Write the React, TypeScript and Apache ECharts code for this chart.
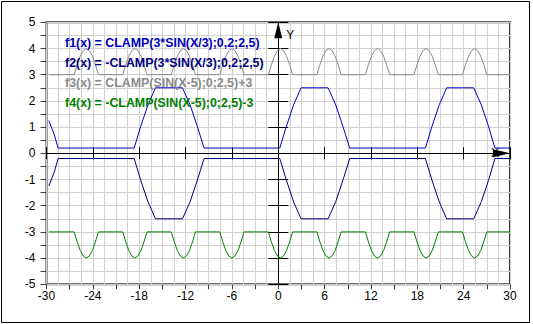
import React, { useEffect, useRef } from "react";
import * as echarts from "echarts";

// f1 / f2 curve (clamped 3*sin(x/3))
const curveX = [-29.7, -29.0, -28.5, -18.65, -17.8, -16.9, -15.9, -12.4, -11.4, -10.5, -9.6, 0.2, 1.0, 2.0, 2.95, 6.45, 7.45, 8.4, 9.25, 19.05, 19.9, 20.85, 21.8, 25.3, 26.3, 27.2, 28.05, 30];
const f1Y = [1.25, 0.72, 0.2, 0.2, 1.03, 1.82, 2.5, 2.5, 1.84, 1.05, 0.2, 0.2, 0.98, 1.86, 2.5, 2.5, 1.84, 1.0, 0.2, 0.2, 1.03, 1.86, 2.5, 2.5, 1.84, 1.05, 0.2, 0.2];
const f2Y = [-1.25, -0.72, -0.2, -0.2, -1.03, -1.82, -2.5, -2.5, -1.84, -1.05, -0.2, -0.2, -0.98, -1.86, -2.5, -2.5, -1.84, -1.0, -0.2, -0.2, -1.03, -1.86, -2.5, -2.5, -1.84, -1.05, -0.2, -0.2];

// f3 / f4 wave (clamped sin(x-5))
const waveX = [
  -29.7,
  -26.42, -26.03, -25.63, -25.24, -24.85, -24.46, -24.06, -23.67, -23.28,
  -20.13, -19.74, -19.34, -18.95, -18.56, -18.17, -17.77, -17.38, -16.99,
  -13.85, -13.46, -13.06, -12.67, -12.28, -11.89, -11.49, -11.1, -10.71,
  -7.57, -7.18, -6.78, -6.39, -6.0, -5.61, -5.21, -4.82, -4.43,
  -1.28, -0.89, -0.49, -0.1, 0.29, 0.68, 1.08, 1.47, 1.86,
  5.0, 5.39, 5.79, 6.18, 6.57, 6.96, 7.36, 7.75, 8.14,
  11.28, 11.67, 12.07, 12.46, 12.85, 13.24, 13.64, 14.03, 14.42,
  17.57, 17.96, 18.36, 18.75, 19.14, 19.53, 19.93, 20.32, 20.71,
  23.85, 24.24, 24.64, 25.03, 25.42, 25.81, 26.21, 26.6, 26.99,
  30,
];
const f3Y = [
  3,
  3, 3.38, 3.71, 3.92, 4, 3.92, 3.71, 3.38, 3,
  3, 3.38, 3.71, 3.92, 4, 3.92, 3.71, 3.38, 3,
  3, 3.38, 3.71, 3.92, 4, 3.92, 3.71, 3.38, 3,
  3, 3.38, 3.71, 3.92, 4, 3.92, 3.71, 3.38, 3,
  3, 3.38, 3.71, 3.92, 4, 3.92, 3.71, 3.38, 3,
  3, 3.38, 3.71, 3.92, 4, 3.92, 3.71, 3.38, 3,
  3, 3.38, 3.71, 3.92, 4, 3.92, 3.71, 3.38, 3,
  3, 3.38, 3.71, 3.92, 4, 3.92, 3.71, 3.38, 3,
  3, 3.38, 3.71, 3.92, 4, 3.92, 3.71, 3.38, 3,
  3,
];
const f4Y = [
  -3,
  -3, -3.38, -3.71, -3.92, -4, -3.92, -3.71, -3.38, -3,
  -3, -3.38, -3.71, -3.92, -4, -3.92, -3.71, -3.38, -3,
  -3, -3.38, -3.71, -3.92, -4, -3.92, -3.71, -3.38, -3,
  -3, -3.38, -3.71, -3.92, -4, -3.92, -3.71, -3.38, -3,
  -3, -3.38, -3.71, -3.92, -4, -3.92, -3.71, -3.38, -3,
  -3, -3.38, -3.71, -3.92, -4, -3.92, -3.71, -3.38, -3,
  -3, -3.38, -3.71, -3.92, -4, -3.92, -3.71, -3.38, -3,
  -3, -3.38, -3.71, -3.92, -4, -3.92, -3.71, -3.38, -3,
  -3, -3.38, -3.71, -3.92, -4, -3.92, -3.71, -3.38, -3,
  -3,
];

const xTickLabels = [-30, -24, -18, -12, -6, 0, 6, 12, 18, 24, 30];
const yTickLabels = [-5, -4, -3, -2, -1, 0, 1, 2, 3, 4, 5];

const seriesNames = [
  "f1(x) = CLAMP(3*SIN(X/3);0,2;2,5)",
  "f2(x) = -CLAMP(3*SIN(X/3);0,2;2,5)",
  "f3(x) = CLAMP(SIN(X-5);0;2,5)+3",
  "f4(x) = -CLAMP(SIN(X-5);0;2,5)-3",
];
const seriesColors = ["#0000c0", "#000080", "#8a8a8a", "#008000"];

// tip of the Y axis arrow (data coordinates)
const yArrowTip = [0, 5];

const FONT = "'Liberation Sans', Arial, sans-serif";

const zip = (xs: number[], ys: number[]) => xs.map((x, i) => [x, ys[i]]);

export default function App() {
  const ref = useRef<HTMLDivElement>(null);
  useEffect(() => {
    if (!ref.current) return;
    const chart = echarts.init(ref.current, null, { renderer: "svg" });
    const seriesData = [zip(curveX, f1Y), zip(curveX, f2Y), zip(waveX, f3Y), zip(waveX, f4Y)];
    const baseX = { type: "value", min: -30, max: 30, gridIndex: 0 };
    const baseY = { type: "value", min: -5, max: 5, gridIndex: 0 };
    chart.setOption({
      animation: false,
      backgroundColor: "#ffffff",
      textStyle: { fontFamily: FONT },
      grid: {
        left: 46.5,
        right: 23,
        top: 22.3,
        bottom: 39.7,
        show: true,
        borderColor: "#383838",
        borderWidth: 2,
        backgroundColor: "transparent",
      },
      graphic: [
        {
          type: "rect",
          shape: { x: 1.5, y: 1.5, width: 528, height: 321 },
          style: { fill: "none", stroke: "#000", lineWidth: 1 },
          silent: true,
        },
      ],
      legend: {
        orient: "vertical",
        left: 60,
        top: 36,
        padding: 0,
        itemGap: 7,
        itemWidth: 0,
        itemHeight: 14,
        icon: "none",
        selectedMode: false,
        textStyle: { fontFamily: FONT, fontSize: 12.4, fontWeight: "bold" },
        data: seriesNames.map((n, i) => ({ name: n, textStyle: { color: seriesColors[i] } })),
      },
      xAxis: [
        {
          ...baseX,
          position: "bottom",
          interval: 3,
          axisLine: { show: false, onZero: false },
          axisTick: { show: true, length: 5, lineStyle: { color: "#404040" } },
          axisLabel: {
            margin: 6,
            fontSize: 12,
            color: "#000",
            fontFamily: FONT,
            formatter: (v: number) => (xTickLabels.includes(v) ? String(v) : ""),
          },
          splitLine: { show: false },
        },
        {
          ...baseX,
          position: "bottom",
          interval: 1.5,
          axisLine: { show: false, onZero: false },
          axisTick: { show: false },
          axisLabel: { show: false },
          splitLine: { show: true, lineStyle: { color: "#d0d0d0", width: 1 } },
        },
        {
          ...baseX,
          position: "bottom",
          interval: 6,
          name: "X",
          nameLocation: "end",
          nameGap: -19,
          nameTextStyle: { color: "#000", fontSize: 12, fontFamily: FONT, padding: [0, 0, 24, 0] },
          axisLine: {
            show: true,
            onZero: true,
            onZeroAxisIndex: 0,
            symbol: ["none", "triangle"],
            symbolSize: [8, 17],
            symbolOffset: [0, -8.5],
            lineStyle: { color: "#000", width: 1 },
          },
          axisTick: { show: true, inside: false, length: 6, lineStyle: { color: "#000" } },
          axisLabel: { show: false },
          splitLine: { show: false },
        },
        {
          ...baseX,
          position: "bottom",
          interval: 6,
          axisLine: { show: true, onZero: true, onZeroAxisIndex: 0, lineStyle: { color: "#000", width: 1 } },
          axisTick: { show: true, inside: true, length: 6, lineStyle: { color: "#000" } },
          axisLabel: { show: false },
          splitLine: { show: false },
        },
      ],
      yAxis: [
        {
          ...baseY,
          position: "left",
          interval: 0.5,
          axisLine: { show: false, onZero: false },
          axisTick: { show: true, length: 6, lineStyle: { color: "#404040" } },
          axisLabel: {
            margin: 11,
            fontSize: 12,
            color: "#000",
            fontFamily: FONT,
            formatter: (v: number) => (yTickLabels.includes(v) ? String(v) : ""),
          },
          splitLine: { show: true, lineStyle: { color: "#d0d0d0", width: 1 } },
        },
        {
          ...baseY,
          position: "left",
          interval: 1,
          name: "Y",
          nameLocation: "end",
          nameGap: -19,
          nameTextStyle: { color: "#000", fontSize: 12, fontFamily: FONT, padding: [0, 0, 0, 24] },
          axisLine: {
            show: true,
            onZero: true,
            onZeroAxisIndex: 0,
            lineStyle: { color: "#000", width: 1 },
          },
          axisTick: { show: true, inside: false, length: 10, lineStyle: { color: "#000" } },
          axisLabel: { show: false },
          splitLine: { show: false },
        },
        {
          ...baseY,
          position: "left",
          interval: 1,
          axisLine: {
            show: true,
            onZero: true,
            onZeroAxisIndex: 0,
            lineStyle: { color: "#000", width: 1 },
          },
          axisTick: { show: true, inside: true, length: 10, lineStyle: { color: "#000" } },
          axisLabel: { show: false },
          splitLine: { show: false },
        },
      ],
      series: seriesNames.map((name, i) => ({
        name,
        type: "line",
        xAxisIndex: 0,
        yAxisIndex: 0,
        data: seriesData[i],
        showSymbol: false,
        symbol: "none",
        silent: true,
        color: seriesColors[i],
        lineStyle: { color: seriesColors[i], width: 1 },
        z: 3,
        ...(i === 0
          ? {
              markPoint: {
                silent: true,
                symbol: "triangle",
                symbolSize: [8, 16],
                symbolOffset: [0, 8],
                itemStyle: { color: "#000" },
                label: { show: false },
                z: 5,
                data: [{ coord: yArrowTip }],
              },
            }
          : {}),
      })),
    });
    return () => chart.dispose();
  }, []);
  return (
    <div
      ref={ref}
      style={{ position: "fixed", left: 0, top: 0, width: 533, height: 324, background: "#fff" }}
    />
  );
}
